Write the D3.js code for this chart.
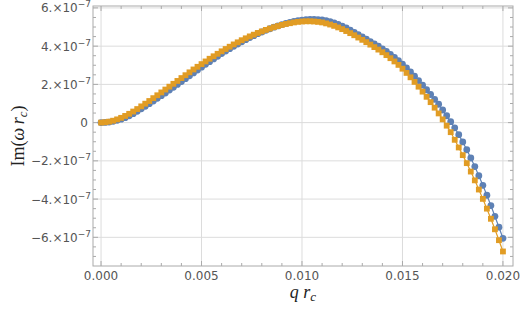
<!DOCTYPE html>
<html>
<head>
<meta charset="utf-8">
<script src="https://cdn.jsdelivr.net/npm/d3@7"></script>
<style>
  body { margin: 0; background: #fff; }
  svg { display: block; }
  .tick-label { font-family: "DejaVu Sans", sans-serif; font-size: 12px; fill: #555; }
  .axis-title { font-family: "Liberation Serif", "Times New Roman", serif; font-size: 18px; fill: #222; }
</style>
</head>
<body>
<svg width="523" height="314"></svg>
<script>
// q r_c sample points
var qValues = [
  0.0000, 0.0002, 0.0004, 0.0006, 0.0008, 0.0010, 0.0012, 0.0014, 0.0016, 0.0018,
  0.0020, 0.0022, 0.0024, 0.0026, 0.0028, 0.0030, 0.0032, 0.0034, 0.0036, 0.0038,
  0.0040, 0.0042, 0.0044, 0.0046, 0.0048, 0.0050, 0.0052, 0.0054, 0.0056, 0.0058,
  0.0060, 0.0062, 0.0064, 0.0066, 0.0068, 0.0070, 0.0072, 0.0074, 0.0076, 0.0078,
  0.0080, 0.0082, 0.0084, 0.0086, 0.0088, 0.0090, 0.0092, 0.0094, 0.0096, 0.0098,
  0.0100, 0.0102, 0.0104, 0.0106, 0.0108, 0.0110, 0.0112, 0.0114, 0.0116, 0.0118,
  0.0120, 0.0122, 0.0124, 0.0126, 0.0128, 0.0130, 0.0132, 0.0134, 0.0136, 0.0138,
  0.0140, 0.0142, 0.0144, 0.0146, 0.0148, 0.0150, 0.0152, 0.0154, 0.0156, 0.0158,
  0.0160, 0.0162, 0.0164, 0.0166, 0.0168, 0.0170, 0.0172, 0.0174, 0.0176, 0.0178,
  0.0180, 0.0182, 0.0184, 0.0186, 0.0188, 0.0190, 0.0192, 0.0194, 0.0196, 0.0198,
  0.0200
];

// Im(omega r_c), in units of 1e-7
var blueValues = [
  0.00, 0.01, 0.03, 0.07, 0.12, 0.18, 0.26, 0.36, 0.47, 0.59,
  0.72, 0.85, 0.99, 1.13, 1.27, 1.41, 1.55, 1.70, 1.85, 2.00,
  2.15, 2.30, 2.45, 2.60, 2.75, 2.90, 3.05, 3.19, 3.33, 3.47,
  3.61, 3.74, 3.87, 3.99, 4.11, 4.23, 4.34, 4.45, 4.55, 4.65,
  4.74, 4.83, 4.91, 4.99, 5.06, 5.13, 5.19, 5.24, 5.29, 5.33,
  5.36, 5.38, 5.40, 5.40, 5.39, 5.37, 5.33, 5.28, 5.22, 5.14,
  5.05, 4.95, 4.84, 4.72, 4.60, 4.48, 4.36, 4.24, 4.12, 4.00,
  3.86, 3.72, 3.57, 3.41, 3.24, 3.06, 2.86, 2.65, 2.43, 2.20,
  1.96, 1.72, 1.47, 1.22, 0.96, 0.66, 0.36, 0.05, -0.27, -0.63,
  -1.01, -1.42, -1.85, -2.30, -2.78, -3.28, -3.80, -4.34, -4.90, -5.47,
  -6.05
];

var orangeValues = [
  0.00, 0.02, 0.05, 0.10, 0.17, 0.25, 0.35, 0.46, 0.58, 0.71,
  0.85, 0.99, 1.13, 1.28, 1.43, 1.58, 1.73, 1.88, 2.03, 2.18,
  2.33, 2.48, 2.63, 2.78, 2.92, 3.06, 3.20, 3.34, 3.47, 3.60,
  3.73, 3.85, 3.97, 4.09, 4.20, 4.31, 4.41, 4.51, 4.60, 4.69,
  4.77, 4.85, 4.92, 4.99, 5.05, 5.11, 5.16, 5.20, 5.24, 5.27,
  5.29, 5.30, 5.30, 5.29, 5.27, 5.24, 5.19, 5.13, 5.06, 4.98,
  4.89, 4.79, 4.68, 4.57, 4.45, 4.33, 4.21, 4.08, 3.95, 3.82,
  3.68, 3.53, 3.37, 3.20, 3.02, 2.82, 2.60, 2.37, 2.13, 1.88,
  1.62, 1.35, 1.07, 0.78, 0.48, 0.17, -0.16, -0.50, -0.90, -1.30,
  -1.70, -2.12, -2.56, -3.02, -3.50, -3.99, -4.50, -5.03, -5.58, -6.15,
  -6.74
];

var xTicks = [0, 0.005, 0.010, 0.015, 0.020];
var xTickLabels = ["0.000", "0.005", "0.010", "0.015", "0.020"];
var yTicks = [-6, -4, -2, 0, 2, 4, 6];
var yTickMantissas = ["\u22126.", "\u22124.", "\u22122.", "0", "2.", "4.", "6."];

var svg = d3.select("svg"),
    plotLeft = 93, plotRight = 513, plotTop = 6, plotBottom = 266;

var x = d3.scaleLinear().domain([-0.0004, 0.0205]).range([plotLeft, plotRight]);
var y = d3.scaleLinear().domain([-7.5, 6.1]).range([plotBottom, plotTop]);

var xMinor = d3.range(0, 0.0205, 0.001).filter(function(v) {
    return Math.abs(v / 0.005 - Math.round(v / 0.005)) > 1e-6;
});
var yMinor = d3.range(-7, 6.1, 0.5).filter(function(v) {
    return Math.abs(v / 2 - Math.round(v / 2)) > 1e-6;
});

// grid
svg.append("g").selectAll("line")
    .data(xTicks)
    .enter().append("line")
    .attr("x1", function(d) { return x(d); })
    .attr("x2", function(d) { return x(d); })
    .attr("y1", plotTop).attr("y2", plotBottom)
    .style("stroke", "#dcdcdc").style("stroke-width", 1);

svg.append("g").selectAll("line")
    .data(yTicks)
    .enter().append("line")
    .attr("y1", function(d) { return y(d); })
    .attr("y2", function(d) { return y(d); })
    .attr("x1", plotLeft).attr("x2", plotRight)
    .style("stroke", "#dcdcdc").style("stroke-width", 1);

// frame
svg.append("rect")
    .attr("x", plotLeft).attr("y", plotTop)
    .attr("width", plotRight - plotLeft).attr("height", plotBottom - plotTop)
    .style("fill", "none").style("stroke", "#aaa").style("stroke-width", 1);

// frame ticks
var tickG = svg.append("g").style("stroke", "#aaa").style("stroke-width", 1);
function addXTicks(vals, len) {
    vals.forEach(function(v) {
        tickG.append("line").attr("x1", x(v)).attr("x2", x(v)).attr("y1", plotBottom).attr("y2", plotBottom - len);
        tickG.append("line").attr("x1", x(v)).attr("x2", x(v)).attr("y1", plotTop).attr("y2", plotTop + len);
    });
}
function addYTicks(vals, len) {
    vals.forEach(function(v) {
        tickG.append("line").attr("y1", y(v)).attr("y2", y(v)).attr("x1", plotLeft).attr("x2", plotLeft + len);
        tickG.append("line").attr("y1", y(v)).attr("y2", y(v)).attr("x1", plotRight).attr("x2", plotRight - len);
    });
}
addXTicks(xTicks, 5);
addXTicks(xMinor, 3);
addYTicks(yTicks, 5);
addYTicks(yMinor, 3);

// tick labels
svg.append("g").selectAll("text")
    .data(xTicks)
    .enter().append("text")
    .attr("class", "tick-label")
    .attr("x", function(d) { return x(d); })
    .attr("y", 280)
    .attr("text-anchor", "middle")
    .text(function(d, i) { return xTickLabels[i]; });

var yLab = svg.append("g").selectAll("text")
    .data(yTicks)
    .enter().append("text")
    .attr("class", "tick-label")
    .attr("x", 91)
    .attr("y", function(d) { return y(d) + 4.5; })
    .attr("text-anchor", "end");

yLab.each(function(d, i) {
    var t = d3.select(this);
    if (d === 0) {
        t.attr("x", 88).text("0");
        return;
    }
    t.append("tspan").text(yTickMantissas[i] + "\u00d710");
    t.append("tspan").attr("dy", -5).style("font-size", "9px").text("\u22127");
});

// series
var blueData = qValues.map(function(q, i) { return { q: q, v: blueValues[i] }; });
var orangeData = qValues.map(function(q, i) { return { q: q, v: orangeValues[i] }; });

var line = d3.line()
    .x(function(d) { return x(d.q); })
    .y(function(d) { return y(d.v); });

svg.append("path")
    .datum(blueData)
    .attr("d", line)
    .style("fill", "none").style("stroke", "#5e81b5").style("stroke-width", 1.2);

svg.append("g").selectAll("circle")
    .data(blueData)
    .enter().append("circle")
    .attr("cx", function(d) { return x(d.q); })
    .attr("cy", function(d) { return y(d.v); })
    .attr("r", 3.4)
    .style("fill", "#5e81b5");

svg.append("path")
    .datum(orangeData)
    .attr("d", line)
    .style("fill", "none").style("stroke", "#e19c24").style("stroke-width", 1.2);

svg.append("g").selectAll("rect")
    .data(orangeData)
    .enter().append("rect")
    .attr("x", function(d) { return x(d.q) - 2.9; })
    .attr("y", function(d) { return y(d.v) - 2.9; })
    .attr("width", 5.8).attr("height", 5.8)
    .style("fill", "#e19c24");

// axis titles
var xt = svg.append("text")
    .attr("class", "axis-title")
    .attr("x", 303).attr("y", 298)
    .attr("text-anchor", "middle");
xt.append("tspan").style("font-style", "italic").text("q r");
xt.append("tspan").style("font-style", "italic").style("font-size", "13px").attr("dy", 3).text("c");

var yt = svg.append("text")
    .attr("class", "axis-title")
    .attr("transform", "translate(24,136) rotate(-90)")
    .attr("text-anchor", "middle");
yt.append("tspan").text("Im(");
yt.append("tspan").style("font-style", "italic").text("\u03c9\u2009r");
yt.append("tspan").style("font-style", "italic").style("font-size", "13px").attr("dy", 3).text("c");
yt.append("tspan").attr("dy", -3).text(")");
</script>
</body>
</html>
